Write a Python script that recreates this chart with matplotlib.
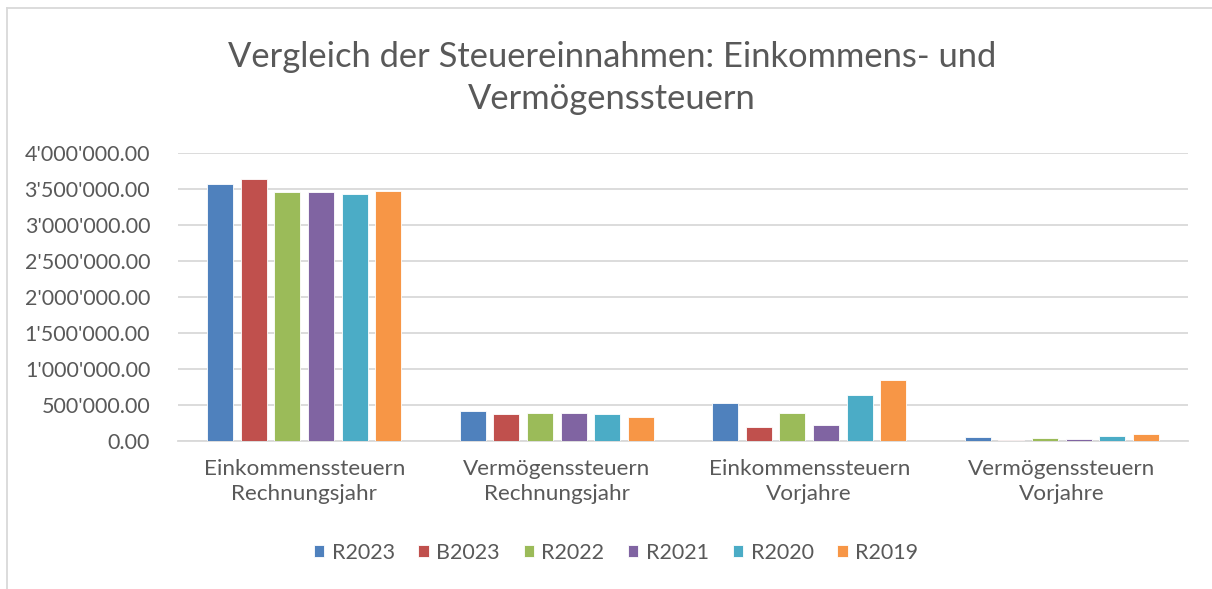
import matplotlib
matplotlib.use("Agg")
import matplotlib.pyplot as plt
import numpy as np
from matplotlib.ticker import FuncFormatter
from matplotlib.lines import Line2D

# Kategorien und Serien
kategorien = ["Einkommenssteuern\nRechnungsjahr", "Vermögenssteuern\nRechnungsjahr",
              "Einkommenssteuern\nVorjahre", "Vermögenssteuern\nVorjahre"]
serien = ["R2023", "B2023", "R2022", "R2021", "R2020", "R2019"]
r2023 = [3569000, 415000, 525000, 55000]
b2023 = [3635000, 377000, 195000, 12000]
r2022 = [3454000, 395000, 390000, 40000]
r2021 = [3458000, 387000, 223000, 24000]
r2020 = [3426000, 373000, 640000, 70000]
r2019 = [3468000, 335000, 845000, 93000]
farben = ["#4F81BD", "#C0504D", "#9BBB59", "#8064A2", "#4BACC6", "#F79646"]

plt.rcParams['font.family'] = ['Lato', 'DejaVu Sans']
textfarbe = "#595959"
gitter = "#D9D9D9"

fig = plt.figure(figsize=(12.12, 5.89), dpi=100)
ax = fig.add_axes([178/1212, 1 - 441/589, (1188-178)/1212, (441-153)/589])

x = np.arange(len(kategorien))
schritt = 0.133
breite = 0.103
for i, (name, werte) in enumerate(zip(serien, [r2023, b2023, r2022, r2021, r2020, r2019])):
    ax.bar(x + (i - 2.5) * schritt, werte, width=breite, color=farben[i],
           edgecolor="white", linewidth=0.6, label=name, zorder=3)

ax.set_xlim(-0.5, len(kategorien) - 0.5)
ax.set_ylim(0, 4000000)
ax.set_yticks(np.arange(0, 4000001, 500000))
ax.yaxis.set_major_formatter(FuncFormatter(lambda v, p: f"{v:,.2f}".replace(",", "'")))
ax.set_xticks(x)
ax.set_xticklabels(kategorien, linespacing=1.3)
ax.grid(axis="y", color=gitter, linewidth=1.3, zorder=0)
for s in ["top", "right", "left"]:
    ax.spines[s].set_visible(False)
ax.spines["bottom"].set_color(gitter)
ax.spines["bottom"].set_linewidth(1.3)
ax.tick_params(axis="y", length=0, pad=20, labelsize=15.5, labelcolor=textfarbe)
ax.tick_params(axis="x", length=0, pad=13, labelsize=16.2, labelcolor=textfarbe)

fig.text(0.505, 1 - 78/589, "Vergleich der Steuereinnahmen: Einkommens- und\nVermögenssteuern",
         ha="center", va="center", fontsize=24.8, color=textfarbe, linespacing=1.38)

ax.legend(loc="center", bbox_to_anchor=(616/1212, 1 - 553/589), bbox_transform=fig.transFigure,
          ncol=6, frameon=False, fontsize=15.5, labelcolor=textfarbe,
          handlelength=0.48, handleheight=0.48, handletextpad=0.35, columnspacing=1.1)

# Rahmen des Diagramms (links und oben sichtbar)
fig.add_artist(Line2D([7/1212, 7/1212], [0, 1 - 8/589], transform=fig.transFigure, color=gitter, linewidth=1.3))
fig.add_artist(Line2D([7/1212, 1], [1 - 8/589, 1 - 8/589], transform=fig.transFigure, color=gitter, linewidth=1.3))

fig.savefig("out.png", dpi=100, facecolor="white")
